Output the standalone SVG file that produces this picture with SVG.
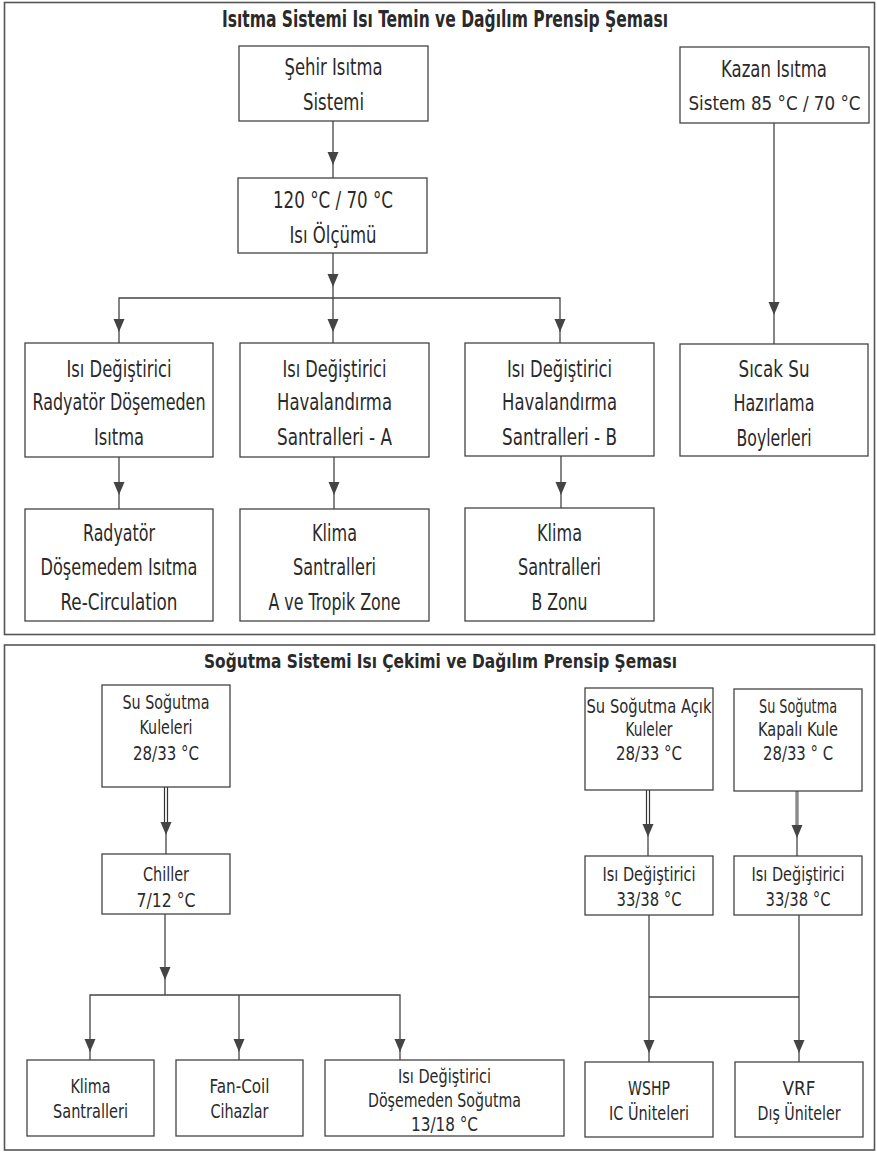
<svg xmlns="http://www.w3.org/2000/svg" xmlns:xlink="http://www.w3.org/1999/xlink" width="877" height="1153" viewBox="0 0 877 1153">
<style>
.panel{fill:none;stroke:#555;stroke-width:1.6}
.box{fill:#fff;stroke:#444;stroke-width:1.3}
.ln{fill:none;stroke:#444;stroke-width:1.3}
.dbl{fill:none;stroke:#333;stroke-width:4.2}
.dbli{fill:none;stroke:#fff;stroke-width:1.8}
.gry{fill:none;stroke:#8a8a8a;stroke-width:3.4}
text{font-family:"DejaVu Sans Condensed","Liberation Sans Narrow","Liberation Sans",Arial,sans-serif;fill:#2a2a2a;text-anchor:middle}
.t{font-size:22.5px}
.s{font-size:19.5px}
.h1{font-size:22.5px;font-weight:bold}
.h2{font-size:20px;font-weight:bold}
</style>
<defs>
<polygon id="ah" points="-5.5,-13 5.5,-13 0,0" fill="#444"/>
</defs>
<rect width="877" height="1153" fill="#fff"/>
<rect class="panel" x="4.5" y="2.5" width="870" height="632"/>
<rect class="panel" x="4.5" y="645" width="870" height="505"/>
<text class="h1" x="445" y="27" textLength="446" lengthAdjust="spacingAndGlyphs">Isıtma Sistemi Isı Temin ve Dağılım Prensip Şeması</text>
<text class="h2" x="440.5" y="668" textLength="473" lengthAdjust="spacingAndGlyphs">Soğutma Sistemi Isı Çekimi ve Dağılım Prensip Şeması</text>

<g id="connectors">
<line class="ln" x1="333" y1="121" x2="333" y2="178"/><use xlink:href="#ah" x="333" y="165"/>
<line class="ln" x1="333" y1="253" x2="333" y2="298"/><use xlink:href="#ah" x="333" y="287"/>
<polyline class="ln" points="119,343 119,298 560,298 560,343"/>
<line class="ln" x1="333" y1="298" x2="333" y2="343"/>
<use xlink:href="#ah" x="119" y="332"/><use xlink:href="#ah" x="333" y="332"/><use xlink:href="#ah" x="560" y="332"/>
<line class="ln" x1="774" y1="123" x2="774" y2="344"/><use xlink:href="#ah" x="774" y="315"/>
<line class="ln" x1="119" y1="457" x2="119" y2="509"/><use xlink:href="#ah" x="119" y="495"/>
<line class="ln" x1="334" y1="457" x2="334" y2="509"/><use xlink:href="#ah" x="334" y="495"/>
<line class="ln" x1="561" y1="456" x2="561" y2="508"/><use xlink:href="#ah" x="561" y="495"/>

<line class="dbl" x1="166" y1="787" x2="166" y2="824"/><line class="dbli" x1="166" y1="787" x2="166" y2="824"/>
<line class="ln" x1="166" y1="830" x2="166" y2="854"/><use xlink:href="#ah" x="166" y="835"/>
<line class="ln" x1="165" y1="914" x2="165" y2="995"/><use xlink:href="#ah" x="165" y="980"/>
<polyline class="ln" points="90,1060 90,995 400,995 400,1060"/>
<line class="ln" x1="239" y1="995" x2="239" y2="1060"/>
<use xlink:href="#ah" x="90" y="1052"/><use xlink:href="#ah" x="239" y="1052"/><use xlink:href="#ah" x="400" y="1052"/>
<line class="dbl" x1="648" y1="790" x2="648" y2="826"/><line class="dbli" x1="648" y1="790" x2="648" y2="826"/>
<line class="ln" x1="648" y1="830" x2="648" y2="856"/><use xlink:href="#ah" x="648" y="837"/>
<line class="gry" x1="797" y1="791" x2="797" y2="827"/>
<line class="ln" x1="797" y1="830" x2="797" y2="856"/><use xlink:href="#ah" x="797" y="838"/>
<line class="ln" x1="649" y1="915" x2="649" y2="1062"/>
<line class="ln" x1="799" y1="915" x2="799" y2="1062"/>
<line class="ln" x1="649" y1="997" x2="799" y2="997"/>
<use xlink:href="#ah" x="649" y="1053"/><use xlink:href="#ah" x="799" y="1053"/>
</g>

<g id="sehir"><rect class="box" x="239" y="46" width="189" height="75"/>
<text class="t" x="333.5" y="75" textLength="98" lengthAdjust="spacingAndGlyphs">Şehir Isıtma</text>
<text class="t" x="333.5" y="110" textLength="61" lengthAdjust="spacingAndGlyphs">Sistemi</text></g>

<g id="olcum"><rect class="box" x="238" y="178" width="189" height="75"/>
<text class="t" x="333" y="208" textLength="120" lengthAdjust="spacingAndGlyphs">120 °C / 70 °C</text>
<text class="t" x="333" y="243" textLength="87" lengthAdjust="spacingAndGlyphs">Isı Ölçümü</text></g>

<g id="kazan"><rect class="box" x="680" y="47" width="189" height="76"/>
<text class="t" x="774" y="77" textLength="106" lengthAdjust="spacingAndGlyphs">Kazan Isıtma</text>
<text class="t" x="774.5" y="110" style="font-size:20px" textLength="172" lengthAdjust="spacingAndGlyphs">Sistem 85 °C / 70 °C</text></g>

<g id="hx-rad"><rect class="box" x="25" y="343" width="188" height="114"/>
<text class="t" x="119" y="377" textLength="105" lengthAdjust="spacingAndGlyphs">Isı Değiştirici</text>
<text class="t" x="119" y="410" textLength="173" lengthAdjust="spacingAndGlyphs">Radyatör Döşemeden</text>
<text class="t" x="119" y="445" textLength="50" lengthAdjust="spacingAndGlyphs">Isıtma</text></g>

<g id="hx-a"><rect class="box" x="240" y="343" width="189" height="114"/>
<text class="t" x="334.5" y="377" textLength="104" lengthAdjust="spacingAndGlyphs">Isı Değiştirici</text>
<text class="t" x="334.5" y="410" textLength="115" lengthAdjust="spacingAndGlyphs">Havalandırma</text>
<text class="t" x="334.5" y="445" textLength="115" lengthAdjust="spacingAndGlyphs">Santralleri - A</text></g>

<g id="hx-b"><rect class="box" x="465" y="343" width="189" height="113"/>
<text class="t" x="559.5" y="377" textLength="105" lengthAdjust="spacingAndGlyphs">Isı Değiştirici</text>
<text class="t" x="559.5" y="410" textLength="115" lengthAdjust="spacingAndGlyphs">Havalandırma</text>
<text class="t" x="559.5" y="445" textLength="115" lengthAdjust="spacingAndGlyphs">Santralleri - B</text></g>

<g id="sicak-su"><rect class="box" x="680" y="344" width="188" height="112"/>
<text class="t" x="774" y="377" textLength="71" lengthAdjust="spacingAndGlyphs">Sıcak Su</text>
<text class="t" x="774" y="411" textLength="81" lengthAdjust="spacingAndGlyphs">Hazırlama</text>
<text class="t" x="774" y="446" textLength="75" lengthAdjust="spacingAndGlyphs">Boylerleri</text></g>

<g id="radyator"><rect class="box" x="25" y="509" width="188" height="112"/>
<text class="t" x="119" y="541" textLength="72" lengthAdjust="spacingAndGlyphs">Radyatör</text>
<text class="t" x="119" y="575" textLength="157" lengthAdjust="spacingAndGlyphs">Döşemedem Isıtma</text>
<text class="t" x="119" y="610" textLength="117" lengthAdjust="spacingAndGlyphs">Re-Circulation</text></g>

<g id="klima-a"><rect class="box" x="240" y="509" width="189" height="112"/>
<text class="t" x="334.5" y="541" textLength="45" lengthAdjust="spacingAndGlyphs">Klima</text>
<text class="t" x="334.5" y="575" textLength="83" lengthAdjust="spacingAndGlyphs">Santralleri</text>
<text class="t" x="334.5" y="610" textLength="132" lengthAdjust="spacingAndGlyphs">A ve Tropik Zone</text></g>

<g id="klima-b"><rect class="box" x="465" y="508" width="189" height="113"/>
<text class="t" x="559.5" y="541" textLength="45" lengthAdjust="spacingAndGlyphs">Klima</text>
<text class="t" x="559.5" y="575" textLength="83" lengthAdjust="spacingAndGlyphs">Santralleri</text>
<text class="t" x="559.5" y="610" textLength="56" lengthAdjust="spacingAndGlyphs">B Zonu</text></g>

<g id="kuleler"><rect class="box" x="102" y="685" width="128" height="102"/>
<text class="s" x="166" y="709" textLength="87" lengthAdjust="spacingAndGlyphs">Su Soğutma</text>
<text class="s" x="166" y="734" textLength="53" lengthAdjust="spacingAndGlyphs">Kuleleri</text>
<text class="s" x="166" y="760" textLength="66" lengthAdjust="spacingAndGlyphs">28/33 °C</text></g>

<g id="chiller"><rect class="box" x="102" y="854" width="128" height="60"/>
<text class="s" x="166" y="881" textLength="46" lengthAdjust="spacingAndGlyphs">Chiller</text>
<text class="s" x="166" y="907" textLength="59" lengthAdjust="spacingAndGlyphs">7/12 °C</text></g>

<g id="acik-kule"><rect class="box" x="585" y="688" width="128" height="102"/>
<text class="s" x="649" y="713" textLength="125" lengthAdjust="spacingAndGlyphs">Su Soğutma Açık</text>
<text class="s" x="649" y="736" textLength="47" lengthAdjust="spacingAndGlyphs">Kuleler</text>
<text class="s" x="649" y="760" textLength="66" lengthAdjust="spacingAndGlyphs">28/33 °C</text></g>

<g id="kapali-kule"><rect class="box" x="734" y="689" width="128" height="102"/>
<text class="s" x="798" y="713" textLength="78" lengthAdjust="spacingAndGlyphs">Su Soğutma</text>
<text class="s" x="798" y="736" textLength="80" lengthAdjust="spacingAndGlyphs">Kapalı Kule</text>
<text class="s" x="798" y="760" textLength="70" lengthAdjust="spacingAndGlyphs">28/33 ° C</text></g>

<g id="hx-acik"><rect class="box" x="585" y="856" width="128" height="59"/>
<text class="s" x="649" y="881" textLength="93" lengthAdjust="spacingAndGlyphs">Isı Değiştirici</text>
<text class="s" x="649" y="906" textLength="65" lengthAdjust="spacingAndGlyphs">33/38 °C</text></g>

<g id="hx-kapali"><rect class="box" x="734" y="856" width="128" height="59"/>
<text class="s" x="798" y="881" textLength="93" lengthAdjust="spacingAndGlyphs">Isı Değiştirici</text>
<text class="s" x="798" y="906" textLength="65" lengthAdjust="spacingAndGlyphs">33/38 °C</text></g>

<g id="klima-santralleri"><rect class="box" x="27" y="1060" width="127" height="76"/>
<text class="s" x="90.5" y="1093" textLength="40" lengthAdjust="spacingAndGlyphs">Klima</text>
<text class="s" x="90.5" y="1118" textLength="75" lengthAdjust="spacingAndGlyphs">Santralleri</text></g>

<g id="fan-coil"><rect class="box" x="176" y="1060" width="127" height="76"/>
<text class="s" x="239.5" y="1093" textLength="60" lengthAdjust="spacingAndGlyphs">Fan-Coil</text>
<text class="s" x="239.5" y="1118" textLength="58" lengthAdjust="spacingAndGlyphs">Cihazlar</text></g>

<g id="hx-doseme"><rect class="box" x="325" y="1060" width="239" height="76"/>
<text class="s" x="444.5" y="1083" textLength="93" lengthAdjust="spacingAndGlyphs">Isı Değiştirici</text>
<text class="s" x="444.5" y="1107" textLength="153" lengthAdjust="spacingAndGlyphs">Döşemeden Soğutma</text>
<text class="s" x="444.5" y="1131" textLength="67" lengthAdjust="spacingAndGlyphs">13/18 °C</text></g>

<g id="wshp"><rect class="box" x="585" y="1062" width="128" height="75"/>
<text class="s" x="649" y="1095" textLength="42" lengthAdjust="spacingAndGlyphs">WSHP</text>
<text class="s" x="649" y="1120" textLength="80" lengthAdjust="spacingAndGlyphs">IC Üniteleri</text></g>

<g id="vrf"><rect class="box" x="735" y="1062" width="128" height="75"/>
<text class="s" x="799" y="1095" textLength="33" lengthAdjust="spacingAndGlyphs">VRF</text>
<text class="s" x="799" y="1120" textLength="83" lengthAdjust="spacingAndGlyphs">Dış Üniteler</text></g>
</svg>
